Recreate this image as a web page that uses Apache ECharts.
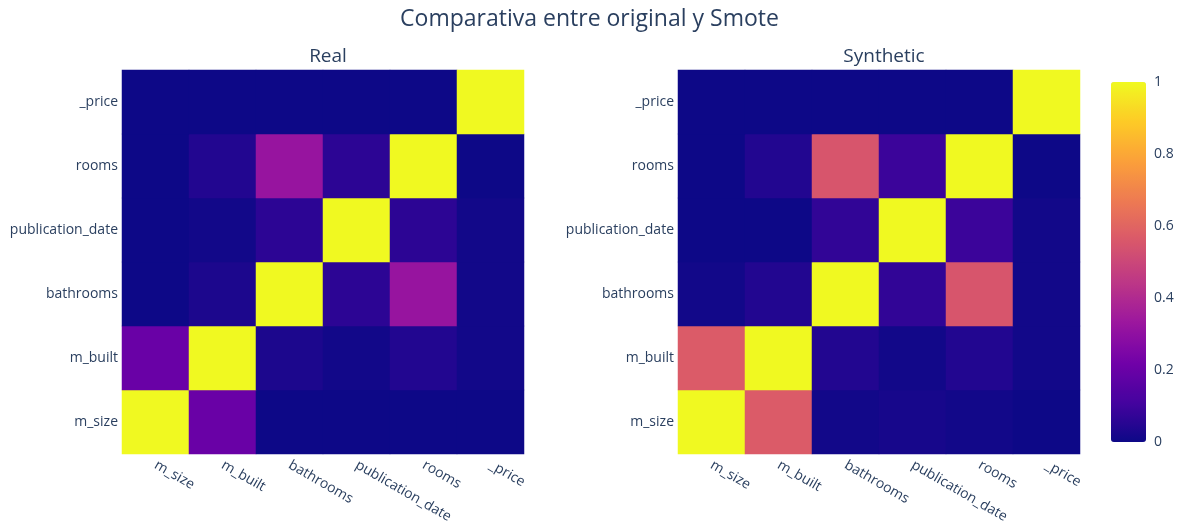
<!DOCTYPE html>
<html>
<head>
<meta charset="utf-8">
<script src="https://cdn.jsdelivr.net/npm/echarts@6/dist/echarts.min.js"></script>
<style>
  html, body { margin: 0; padding: 0; background: #fff; }
  #chart { width: 1179px; height: 527px; }
</style>
</head>
<body>
<div id="chart"></div>
<script>
// variables, same order on both axes (y from bottom to top)
const features = ['m_size', 'm_built', 'bathrooms', 'publication_date', 'rooms', '_price'];

// correlation rows, one row per y category (bottom -> top)
const realCorr = [
  [1.00, 0.20, 0.00, 0.00, 0.00, 0.00],
  [0.20, 1.00, 0.03, 0.01, 0.04, 0.01],
  [0.00, 0.03, 1.00, 0.06, 0.32, 0.01],
  [0.00, 0.01, 0.06, 1.00, 0.06, 0.01],
  [0.00, 0.04, 0.32, 0.06, 1.00, 0.00],
  [0.00, 0.00, 0.00, 0.00, 0.00, 1.00]
];
const synthCorr = [
  [1.00, 0.57, 0.01, 0.02, 0.01, 0.00],
  [0.57, 1.00, 0.04, 0.01, 0.04, 0.01],
  [0.01, 0.04, 1.00, 0.07, 0.55, 0.01],
  [0.00, 0.00, 0.07, 1.00, 0.09, 0.01],
  [0.00, 0.04, 0.55, 0.09, 1.00, 0.00],
  [0.00, 0.00, 0.00, 0.00, 0.00, 1.00]
];
const colorTicks = [0, 0.2, 0.4, 0.6, 0.8, 1];

// plotly plasma
const plasma = ['#0d0887', '#46039f', '#7201a8', '#9c179e', '#bd3786',
  '#d8576b', '#ed7953', '#fb9f3a', '#fdca26', '#f0f921'];

const font = '"Open Sans", "Noto Sans", sans-serif';
const textColor = '#2a3f5f';

function toCells(matrix) {
  let out = [];
  matrix.forEach((row, yi) => {
    row.forEach((v, xi) => {
      out.push([xi, yi, v]);
    });
  });
  return out;
}

function catAxis(gridIndex, isX) {
  let axis = {
    type: 'category',
    gridIndex: gridIndex,
    data: features,
    axisLine: { show: false },
    axisTick: { show: false },
    splitLine: { show: false },
    axisLabel: {
      color: textColor,
      fontFamily: font,
      fontSize: 14,
      margin: 4
    }
  };
  if (isX) {
    axis.axisLabel.rotate = -30;
    axis.axisLabel.margin = 10;
  }
  return axis;
}

const chart = echarts.init(document.getElementById('chart'));

const option = {
  backgroundColor: '#fff',
  animation: false,
  title: [
    {
      text: 'Comparativa entre original y Smote',
      left: 'center',
      top: 3,
      textStyle: { color: textColor, fontFamily: font, fontSize: 23, fontWeight: 'normal' }
    },
    {
      text: 'Real',
      left: 323,
      textAlign: 'center',
      top: 42,
      textStyle: { color: textColor, fontFamily: font, fontSize: 19, fontWeight: 'normal' }
    },
    {
      text: 'Synthetic',
      left: 879,
      textAlign: 'center',
      top: 42,
      textStyle: { color: textColor, fontFamily: font, fontSize: 19, fontWeight: 'normal' }
    }
  ],
  grid: [
    { left: 122, top: 70, width: 402, height: 384 },
    { left: 678, top: 70, width: 402, height: 384 },
    // fake grid used only for colorbar tick labels
    { left: 1111, top: 82, width: 35, height: 360 }
  ],
  xAxis: [
    catAxis(0, true),
    catAxis(1, true),
    { type: 'value', gridIndex: 2, show: false }
  ],
  yAxis: [
    catAxis(0, false),
    catAxis(1, false),
    {
      type: 'value',
      gridIndex: 2,
      position: 'right',
      min: 0,
      max: 1,
      interval: 0.2,
      axisLine: { show: false },
      axisTick: { show: false },
      splitLine: { show: false },
      axisLabel: {
        color: textColor,
        fontFamily: font,
        fontSize: 14,
        margin: 8,
        formatter: v => (colorTicks.indexOf(Math.round(v * 10) / 10) >= 0 ? String(Math.round(v * 10) / 10) : '')
      }
    }
  ],
  visualMap: {
    type: 'continuous',
    min: 0,
    max: 1,
    calculable: false,
    seriesIndex: [0, 1],
    left: 1111,
    top: 82,
    padding: 0,
    itemWidth: 35,
    itemHeight: 360,
    text: null,
    showLabel: false,
    inRange: { color: plasma }
  },
  series: [
    {
      type: 'heatmap',
      xAxisIndex: 0,
      yAxisIndex: 0,
      data: toCells(realCorr),
      itemStyle: { borderWidth: 0 },
      emphasis: { disabled: true }
    },
    {
      type: 'heatmap',
      xAxisIndex: 1,
      yAxisIndex: 1,
      data: toCells(synthCorr),
      itemStyle: { borderWidth: 0 },
      emphasis: { disabled: true }
    }
  ]
};

chart.setOption(option);
</script>
</body>
</html>
